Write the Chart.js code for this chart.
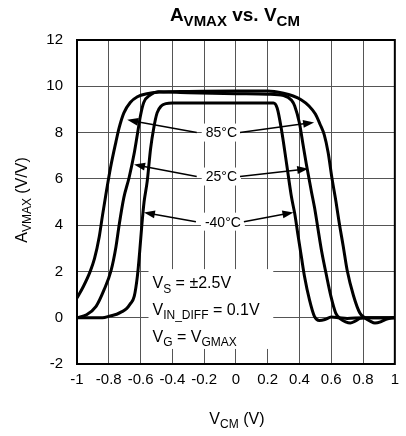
<!DOCTYPE html>
<html>
<head>
<meta charset="utf-8">
<script src="https://cdn.jsdelivr.net/npm/chart.js@4.4.1/dist/chart.umd.min.js"></script>
<style>
  html, body { margin: 0; padding: 0; background: #fff; }
  canvas { display: block; }
</style>
</head>
<body>
<canvas id="chart" width="406" height="436"></canvas>
<script>
// axis ticks
const xTicks = [-1, -0.8, -0.6, -0.4, -0.2, 0, 0.2, 0.4, 0.6, 0.8, 1]
const yTicks = [-2, 0, 2, 4, 6, 8, 10, 12]

// 85°C curve (VCM in V, gain in V/V)
const vcm85 = [-1.0, -0.96, -0.92, -0.89, -0.86, -0.84, -0.82, -0.79, -0.755, -0.735, -0.705, -0.665, -0.62, -0.56, -0.48, -0.3, 0.0, 0.2, 0.3, 0.36, 0.41, 0.46, 0.5, 0.53, 0.556, 0.58, 0.605, 0.63, 0.65, 0.675, 0.70, 0.74, 0.78, 0.81, 0.845, 0.875, 0.91, 0.94, 0.97, 1.0]
const gain85 = [0.85, 1.35, 1.95, 2.55, 3.5, 4.4, 5.25, 6.45, 7.6, 8.2, 8.85, 9.3, 9.55, 9.68, 9.75, 9.78, 9.8, 9.8, 9.7, 9.58, 9.42, 9.15, 8.8, 8.35, 7.9, 7.15, 6.0, 5.0, 4.1, 3.1, 2.05, 0.95, 0.2, 0.0, -0.15, -0.23, -0.18, -0.08, -0.02, 0.0]

// 25°C curve
const vcm25 = [-1.0, -0.94, -0.88, -0.83, -0.785, -0.755, -0.735, -0.705, -0.672, -0.641, -0.62, -0.6, -0.58, -0.54, -0.49, -0.3, 0.0, 0.2, 0.3, 0.35, 0.37, 0.40, 0.422, 0.443, 0.474, 0.495, 0.515, 0.54, 0.567, 0.598, 0.628, 0.66, 0.69, 0.72, 0.75, 0.78, 0.82, 0.9, 1.0]
const gain25 = [0.0, 0.13, 0.49, 1.2, 2.06, 3.06, 4.0, 5.2, 6.06, 7.07, 7.93, 8.75, 9.3, 9.62, 9.76, 9.72, 9.68, 9.66, 9.6, 9.4, 9.15, 8.4, 7.5, 6.64, 5.49, 4.75, 3.9, 2.85, 1.92, 0.92, 0.2, -0.06, -0.18, -0.23, -0.15, -0.03, 0.0, 0.0, 0.0]

// -40°C curve
const vcm40 = [-1.0, -0.9, -0.84, -0.79, -0.75, -0.72, -0.69, -0.665, -0.64, -0.62, -0.605, -0.592, -0.578, -0.558, -0.537, -0.517, -0.496, -0.47, -0.44, -0.4, -0.2, 0.0, 0.236, 0.26, 0.288, 0.32, 0.35, 0.37, 0.39, 0.412, 0.432, 0.463, 0.494, 0.525, 0.56, 0.6, 0.65, 0.7, 0.8, 0.9, 1.0]
const gain40 = [0.0, 0.0, 0.0, 0.08, 0.15, 0.25, 0.38, 0.6, 0.92, 1.8, 2.9, 4.0, 5.0, 5.9, 7.3, 8.2, 8.85, 9.15, 9.25, 9.28, 9.28, 9.28, 9.28, 9.05, 8.07, 6.6, 5.2, 4.5, 3.6, 2.63, 1.77, 0.77, 0.06, -0.12, -0.08, 0.03, 0.0, -0.03, 0.0, 0.0, 0.0]

const FONT = 'Arial, "Liberation Sans", sans-serif'

function toPoints(xs, ys){
  return xs.map((x, i) => ({ x: x, y: ys[i] }))
}

// text made of [string, isSubscript] pieces
function drawRich(ctx, parts, x, y, size, bold, align){
  const w = bold ? 'bold ' : ''
  const sub = Math.round(size * 0.78)
  let total = 0
  parts.forEach(p => {
    ctx.font = w + (p[1] ? sub : size) + 'px ' + FONT
    total += ctx.measureText(p[0]).width
  })
  let cx = x
  if (align === 'center') cx = x - total / 2
  if (align === 'right') cx = x - total
  ctx.textAlign = 'left'
  ctx.textBaseline = 'alphabetic'
  parts.forEach(p => {
    ctx.font = w + (p[1] ? sub : size) + 'px ' + FONT
    ctx.fillText(p[0], cx, y + (p[1] ? size * 0.28 : 0))
    cx += ctx.measureText(p[0]).width
  })
  return total
}

function arrow(ctx, x1, y1, x2, y2){
  const a = Math.atan2(y2 - y1, x2 - x1)
  const len = 11, half = 4
  ctx.beginPath()
  ctx.moveTo(x1, y1)
  ctx.lineTo(x2 - Math.cos(a) * len * 0.8, y2 - Math.sin(a) * len * 0.8)
  ctx.stroke()
  ctx.beginPath()
  ctx.moveTo(x2, y2)
  ctx.lineTo(x2 - Math.cos(a) * len - Math.sin(a) * half, y2 - Math.sin(a) * len + Math.cos(a) * half)
  ctx.lineTo(x2 - Math.cos(a) * len + Math.sin(a) * half, y2 - Math.sin(a) * len - Math.cos(a) * half)
  ctx.closePath()
  ctx.fill()
}

// temperature labels (data units) and arrow tips
const tempLabels = [
  { text: '85°C', x: -0.19, y: 8.0, left: [-0.684, 8.55], right: [0.492, 8.44] },
  { text: '25°C', x: -0.19, y: 6.1, left: [-0.641, 6.62], right: [0.455, 6.44] },
  { text: '-40°C', x: -0.195, y: 4.15, left: [-0.579, 4.55], right: [0.362, 4.55] }
]

const decor = {
  id: 'decor',
  beforeDatasetsDraw(chart){
    const ctx = chart.ctx
    const xs = chart.scales.x, ys = chart.scales.y
    ctx.save()
    ctx.fillStyle = '#fff'
    // conditions box
    const bx = xs.getPixelForValue(-0.55), by = ys.getPixelForValue(2.1)
    const bx2 = xs.getPixelForValue(0.235), by2 = ys.getPixelForValue(-1.35)
    ctx.fillRect(bx, by, bx2 - bx, by2 - by)
    // label backgrounds
    ctx.font = '14px ' + FONT
    tempLabels.forEach(l => {
      const px = xs.getPixelForValue(l.x), py = ys.getPixelForValue(l.y)
      const w = ctx.measureText(l.text).width
      l.px = px; l.py = py; l.w = w
      ctx.fillRect(px - 4, py - 9, w + 8, 18)
    })
    ctx.fillStyle = '#000'
    ctx.textAlign = 'left'
    ctx.textBaseline = 'middle'
    tempLabels.forEach(l => ctx.fillText(l.text, l.px, l.py + 1))
    // conditions text
    const tx = xs.getPixelForValue(-0.525)
    drawRich(ctx, [['V', 0], ['S', 1], [' = ±2.5V', 0]], tx, ys.getPixelForValue(1.54) + 6, 16, false, 'left')
    drawRich(ctx, [['V', 0], ['IN_DIFF', 1], [' = 0.1V', 0]], tx, ys.getPixelForValue(0.38) + 6, 16, false, 'left')
    drawRich(ctx, [['V', 0], ['G', 1], [' = V', 0], ['GMAX', 1]], tx, ys.getPixelForValue(-0.78) + 6, 16, false, 'left')
    ctx.restore()
  },
  afterDatasetsDraw(chart){
    const ctx = chart.ctx
    const xs = chart.scales.x, ys = chart.scales.y
    ctx.save()
    ctx.strokeStyle = '#000'
    ctx.fillStyle = '#000'
    ctx.lineWidth = 1.5
    tempLabels.forEach(l => {
      arrow(ctx, l.px - 9, l.py, xs.getPixelForValue(l.left[0]), ys.getPixelForValue(l.left[1]))
      arrow(ctx, l.px + l.w + 3, l.py, xs.getPixelForValue(l.right[0]), ys.getPixelForValue(l.right[1]))
    })
    ctx.restore()
  },
  afterDraw(chart){
    const ctx = chart.ctx
    const a = chart.chartArea
    ctx.save()
    ctx.strokeStyle = '#000'
    ctx.lineWidth = 2
    ctx.strokeRect(a.left, a.top, a.right - a.left, a.bottom - a.top)
    ctx.fillStyle = '#000'
    // title
    drawRich(ctx, [['A', 0], ['VMAX', 1], [' vs. V', 0], ['CM', 1]], (a.left + a.right) / 2 - 1, 21, 19, true, 'center')
    // x axis title
    drawRich(ctx, [['V', 0], ['CM', 1], [' (V)', 0]], (a.left + a.right) / 2 + 1, 424, 16, false, 'center')
    // y axis title
    ctx.translate(27, 200)
    ctx.rotate(-Math.PI / 2)
    drawRich(ctx, [['A', 0], ['VMAX', 1], [' (V/V)', 0]], 0, 0, 16, false, 'center')
    ctx.restore()
  }
}

const lineStyle = {
  borderColor: '#000',
  borderWidth: 3,
  pointRadius: 0,
  showLine: true,
  fill: false,
  cubicInterpolationMode: 'monotone'
}

new Chart(document.getElementById('chart'), {
  type: 'scatter',
  data: {
    datasets: [
      Object.assign({ label: '85°C', data: toPoints(vcm85, gain85) }, lineStyle),
      Object.assign({ label: '25°C', data: toPoints(vcm25, gain25) }, lineStyle),
      Object.assign({ label: '-40°C', data: toPoints(vcm40, gain40) }, lineStyle)
    ]
  },
  options: {
    responsive: false,
    animation: false,
    layout: { padding: { top: 40, right: 5, left: 0, bottom: 0 } },
    plugins: { legend: { display: false }, tooltip: { enabled: false } },
    scales: {
      x: {
        type: 'linear', min: -1, max: 1,
        afterBuildTicks: s => { s.ticks = xTicks.map(v => ({ value: v })) },
        afterFit: s => { s.height = 72 },
        ticks: {
          color: '#000', padding: 7, maxRotation: 0, autoSkip: false,
          font: { family: FONT, size: 15 },
          callback: v => String(v)
        },
        grid: { color: '#555', lineWidth: 1, drawTicks: false },
        border: { display: false }
      },
      y: {
        type: 'linear', min: -2, max: 12,
        afterBuildTicks: s => { s.ticks = yTicks.map(v => ({ value: v })) },
        afterFit: s => { s.width = 77 },
        ticks: {
          color: '#000', padding: 14,
          font: { family: FONT, size: 15 },
          callback: v => String(v)
        },
        grid: { color: '#555', lineWidth: 1, drawTicks: false },
        border: { display: false }
      }
    }
  },
  plugins: [decor]
})
</script>
</body>
</html>
